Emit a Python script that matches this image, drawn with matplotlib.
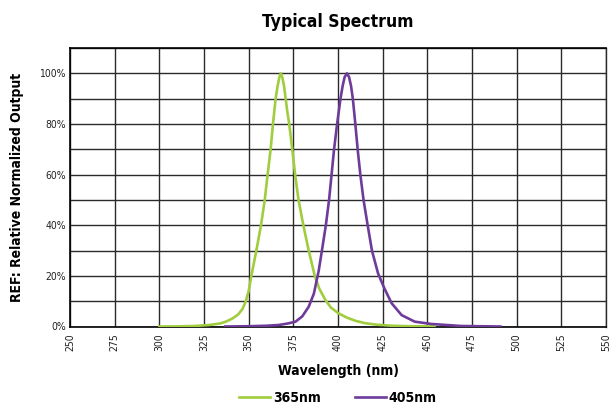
import matplotlib
matplotlib.use('Agg')
import matplotlib.pyplot as plt
from matplotlib.ticker import MultipleLocator, FixedLocator

# wavelength (nm) / relative output (%)
wl_365 = [300, 310, 320, 328, 334, 337.2, 341, 344.2, 346.6, 348.4, 350.0, 351.5, 354.3, 356.9,
          359.0, 360.6, 362.3, 363.6, 365.1, 366.2, 367.2, 368.0, 368.8, 369.8,
          370.7, 371.6, 372.7, 374.4, 376.0, 377.9, 380.6, 383.6, 387.0, 389.5,
          392.9, 396.0, 400.3, 405, 410, 415.2, 422, 430, 440, 454]
out_365 = [0.0, 0.05, 0.2, 0.6, 1.2, 1.9, 3.2, 4.8, 7.0, 10, 14, 20, 30, 40,
           50, 60, 70, 80, 90, 95, 98.5, 100, 98.5, 95,
           90, 85, 80, 70, 60, 50, 40, 30, 20, 15,
           10.5, 7.5, 5.2, 3.5, 2.2, 1.3, 0.7, 0.3, 0.1, 0.05]

wl_405 = [336.9, 350, 360, 366.9, 372, 376.2, 380, 383.6, 386.5, 389.2, 391.0, 393.2,
          395.0, 396.4, 397.8, 399.5, 401.4, 402.6, 403.7, 405.0, 406.2, 407.3,
          408.3, 409.7, 411.0, 412.5, 414.3, 416.6, 419.0, 422.4, 426.0, 430.0,
          435.6, 443, 452.3, 469, 490.9]
out_405 = [0.0, 0.1, 0.3, 0.6, 1.2, 1.9, 4, 7.8, 13, 22, 30, 40,
           50, 60, 70, 80, 90, 95, 98.5, 100, 98.5, 95,
           90, 80, 70, 60, 50, 40, 30, 21, 15, 9.2,
           4.5, 1.9, 1.0, 0.2, 0.0]

x_ticks = list(range(250, 551, 25))
y_labels = [0, 20, 40, 60, 80, 100]

COND = ['Liberation Sans Narrow', 'DejaVu Sans']
GREEN = '#a0cd3e'
PURPLE = '#6e3b9b'

fig = plt.figure(figsize=(6.11, 4.09), dpi=100)
W, H = 611, 409
ax = fig.add_axes([70 / W, 1 - 326.5 / H, (606 - 70) / W, (326.5 - 48) / H])

ax.plot(wl_365, out_365, color=GREEN, lw=1.9, label='365nm', zorder=3)
ax.plot(wl_405, out_405, color=PURPLE, lw=1.9, label='405nm', zorder=3)

ax.set_xlim(250, 550)
ax.set_ylim(0, 110)
ax.xaxis.set_major_locator(FixedLocator(x_ticks))
ax.yaxis.set_major_locator(FixedLocator(y_labels))
ax.yaxis.set_minor_locator(MultipleLocator(10))
ax.grid(True, which='both', color='#2a2a2a', lw=1.0)
ax.set_axisbelow(True)
ax.tick_params(which='both', length=0)
ax.tick_params(axis='x', pad=5)
ax.tick_params(axis='y', pad=3)
for s in ax.spines.values():
    s.set_color('black')
    s.set_linewidth(1.2)
ax.spines['right'].set_linewidth(1.0)
ax.spines['right'].set_color('#2a2a2a')

tick_font = dict(family=COND, fontstretch='condensed', fontsize=7.5, color='#222222')
ax.set_xticklabels([str(v) for v in x_ticks], rotation=90, **tick_font)
ax.set_yticklabels([f'{v}%' for v in y_labels], **tick_font)

bold_font = dict(family=COND, fontstretch='condensed', fontweight='bold')
ax.set_title('Typical Spectrum', fontsize=12.5, pad=15, **bold_font)
ax.set_xlabel('Wavelength (nm)', fontsize=10, labelpad=9, **bold_font)
ax.set_ylabel('REF: Relative Normalized Output', fontsize=10, labelpad=11, **bold_font)

fig.legend(loc='center', bbox_to_anchor=(338 / W, 1 - 398 / H), ncol=2, frameon=False,
           handlelength=2.2, handletextpad=0.2, columnspacing=2.5,
           prop={'family': COND, 'stretch': 'condensed', 'weight': 'bold', 'size': 10})

fig.savefig('out.png', dpi=100)
